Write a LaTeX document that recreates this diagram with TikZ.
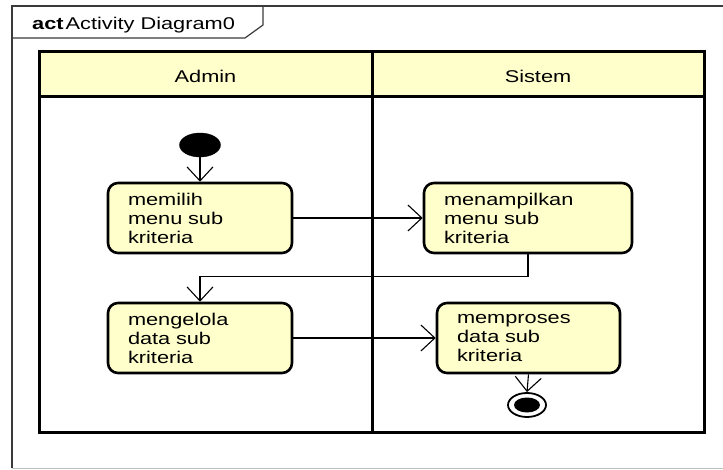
\documentclass[tikz,border=0pt]{standalone}
\usepackage{fontspec}
\setmainfont[FakeStretch=1.28]{Liberation Sans}
\usetikzlibrary{arrows.meta,shapes.geometric}

\definecolor{lanefill}{HTML}{FFFFCC}
\definecolor{actfill}{HTML}{FFFFCC}
\definecolor{framegray}{HTML}{3A3A3A}

\tikzset{
  action/.style={draw=black, line width=2.6pt, fill=actfill, rounded corners=10pt,
    minimum height=70pt, inner xsep=20pt, inner ysep=0pt, align=left,
    font=\fontsize{17}{19}\selectfont},
  flow/.style={draw=black, line width=1.1pt,
    -{Straight Barb[length=14pt,width=26pt]}},
  lanehead/.style={font=\fontsize{17}{19}\selectfont, anchor=base},
}

\begin{document}
\begin{tikzpicture}[x=1pt, y=-1pt]
  \useasboundingbox (0,0) rectangle (723,470);
  \clip (0,0) rectangle (723,470);

  % diagram frame and its name tab
  \draw[framegray, line width=1.2pt] (12,468) -- (12,6) -- (730,6);
  \draw[black!25, line width=0.8pt] (12,468) -- (730,468);
  \draw[framegray, line width=1.2pt] (12,38) -- (245,38) -- (263,25) -- (263,6);
  \node[anchor=base west, inner sep=0pt, font=\fontsize{17}{19}\selectfont]
    (title) at (32,30) {\textbf{act}\hspace{2pt}Activity Diagram0};

  % swimlanes
  \fill[lanefill] (39,52) rectangle (704,97);
  \draw[black, line width=3pt] (39,97) -- (704,97);
  \draw[black, line width=3pt] (372,52) -- (372,432);
  \draw[black, line width=3pt] (39,52) rectangle (704,432);
  \node[lanehead] (admin) at (205.5,83) {Admin};
  \node[lanehead] (sistem) at (538,83) {Sistem};

  % start node
  \node[ellipse, fill=black, draw=black, minimum width=41pt, minimum height=24pt,
    inner sep=0pt] (start) at (200,145) {};

  % actions
  \node[action, text width=144pt] (pilih) at (200,218) {memilih\\menu sub\\kriteria};
  \node[action, text width=168pt] (tampil) at (528,218) {menampilkan\\menu sub\\kriteria};
  \node[action, text width=144pt] (kelola) at (200,338) {mengelola\\data sub\\kriteria};
  \node[action, text width=143pt] (proses) at (528.5,338) {memproses\\data sub\\kriteria};

  % final node
  \node[ellipse, fill=white, draw=black, line width=1.8pt, minimum width=38pt,
    minimum height=24pt, inner sep=0pt] (final) at (527,405) {};
  \node[ellipse, fill=black, minimum width=26pt, minimum height=15pt,
    inner sep=0pt] (finaldot) at (final.center) {};

  % control flows
  \draw[flow] (start.south) -- (pilih.north);
  \draw[flow] (pilih.east) -- (tampil.west);
  \draw[flow] (tampil.south) -- ++(0,22) -| (kelola.north);
  \draw[flow] (kelola.east) -- (proses.west);
  \draw[flow] (proses.south) -- (final.north);
\end{tikzpicture}
\end{document}
